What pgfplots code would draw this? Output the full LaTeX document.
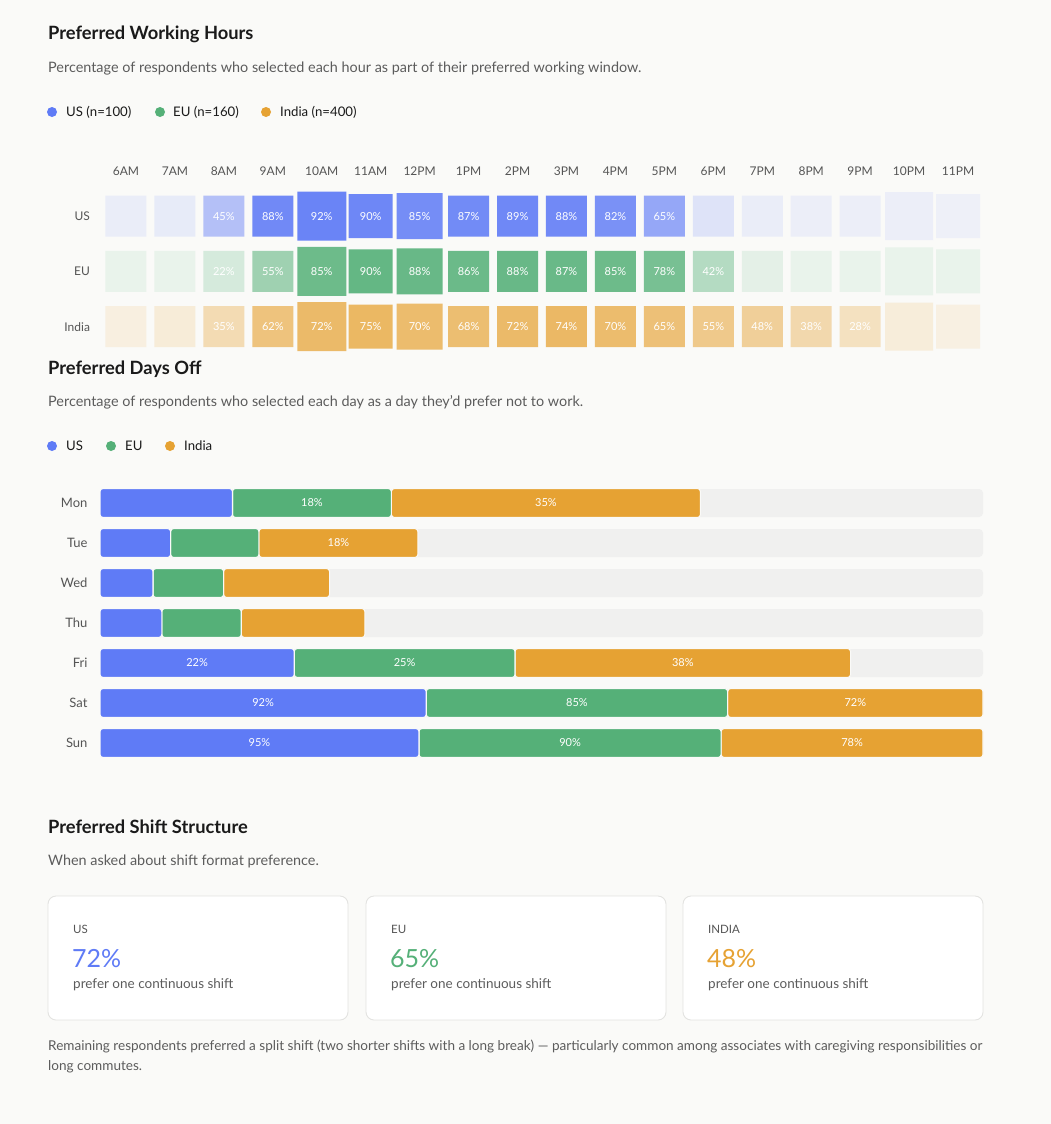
\documentclass[border=0pt]{standalone}
\usepackage{fontspec}
\setmainfont{Lato}
\usepackage{pgfplots}
\pgfplotsset{compat=1.18}
\usepackage{pgfplotstable}
\definecolor{bg}{HTML}{FAFAF8}
\definecolor{usc}{HTML}{5F7BF6}
\definecolor{euc}{HTML}{55B078}
\definecolor{inc}{HTML}{E6A233}
\definecolor{trk}{HTML}{F0F0EF}
\definecolor{ttl}{HTML}{1A1A1A}
\definecolor{sub}{HTML}{5C5C5C}
\definecolor{lab}{HTML}{555555}
\definecolor{cardline}{HTML}{E3E3E1}
\newcommand\fs[1]{\fontsize{#1}{#1}\selectfont}

\pgfdeclareplotmark{rsq}{%
  \pgfsetcornersarced{\pgfpoint{3pt}{3pt}}%
  \pgfpathmoveto{\pgfqpoint{-\pgfplotmarksize}{0pt}}%
  \pgfpathlineto{\pgfqpoint{-\pgfplotmarksize}{\pgfplotmarksize}}%
  \pgfpathlineto{\pgfqpoint{\pgfplotmarksize}{\pgfplotmarksize}}%
  \pgfpathlineto{\pgfqpoint{\pgfplotmarksize}{-\pgfplotmarksize}}%
  \pgfpathlineto{\pgfqpoint{-\pgfplotmarksize}{-\pgfplotmarksize}}%
  \pgfpathclose
  \pgfusepathqfill
}

\pgfplotsset{
  colormap={usmap}{color=(bg) color=(usc)},
  colormap={eumap}{color=(bg) color=(euc)},
  colormap={inmap}{color=(bg) color=(inc)},
}

% hour index, share of respondents (%) per region, half cell size (pt)
\pgfplotstableread{
h  US EU IN s
0  10 10 12 20.5
1  12 10 16 20.5
2  45 22 35 20.5
3  88 55 62 20.5
4  92 85 72 24.5
5  90 90 75 22
6  85 88 70 23
7  87 86 68 20.5
8  89 88 72 20.5
9  88 87 74 20.5
10 82 85 70 20.5
11 65 78 65 20.5
12 18 42 55 20.5
13 10 13 48 20.5
14 9  10 38 20.5
15 9  10 28 20.5
16 9  10 15 24
17 8  10 11 22
}\hours

% day index, share of respondents (%) preferring the day off
\pgfplotstableread{
d US EU IN
0 15 18 35
1 8  10 18
2 6  8  12
3 7  9  14
4 22 25 38
5 92 85 72
6 95 90 78
}\days

\pgfplotsset{
  heat/.style={scatter, only marks, mark=rsq,
    scatter/use mapped color={draw=none,fill=mapped color},
    visualization depends on={\thisrow{s} \as \sz},
    scatter/@pre marker code/.append style={/tikz/mark size=\sz}},
  vlab/.style={only marks, mark=none,
    /pgf/number format/assume math mode=true,
    nodes near coords={\pgfmathprintnumber{\pgfplotspointmeta}\%},
    every node near coord/.append style={anchor=center, text=white, font=\fs{11}}},
  baraxis/.style={at={(100pt,-483pt)}, anchor=north west, scale only axis,
    width=883pt, height=280pt, xmin=0, xmax=100, ymin=-0.5, ymax=6.5,
    y dir=reverse, clip=false},
}
\newcommand\tot{max(100,\thisrow{US}+\thisrow{EU}+\thisrow{IN})}

\begin{document}
\begin{tikzpicture}
\fill[bg] (0pt,0pt) rectangle (1051pt,-1124pt);

% ---------- Section 1 ----------
\node[anchor=base west, inner sep=0, font=\fs{18.3}\bfseries, text=ttl] at (48pt,-40pt) {Preferred Working Hours};
\node[anchor=base west, inner sep=0, font=\fs{14.4}, text=sub] at (48pt,-73pt) {Percentage of respondents who selected each hour as part of their preferred working window.};
\fill[usc] (52pt,-112pt) circle (5pt);
\node[anchor=base west, inner sep=0, font=\fs{13.2}, text=ttl] at (66pt,-116.5pt) {US (n=100)};
\fill[euc] (160pt,-112pt) circle (5pt);
\node[anchor=base west, inner sep=0, font=\fs{13.2}, text=ttl] at (173pt,-116.5pt) {EU (n=160)};
\fill[inc] (266pt,-112pt) circle (5pt);
\node[anchor=base west, inner sep=0, font=\fs{13.2}, text=ttl] at (280pt,-116.5pt) {India (n=400)};

\begin{axis}[at={(101.5pt,-188.4pt)}, anchor=north west, scale only axis,
  width=881pt, height=166pt, xmin=-0.5, xmax=17.5, ymin=-0.5, ymax=2.5,
  point meta min=0, point meta max=100,
  clip=false, axis line style={draw=none}, major tick length=0pt,
  xtick={0,...,17},
  xticklabels={6AM,7AM,8AM,9AM,10AM,11AM,12PM,1PM,2PM,3PM,4PM,5PM,6PM,7PM,8PM,9PM,10PM,11PM},
  xticklabel pos=upper,
  xticklabel style={anchor=base, yshift=12.5pt, font=\fs{12}, text=lab},
  ytick={0,1,2}, yticklabels={India,EU,US},
  yticklabel style={anchor=east, xshift=-8pt, font=\fs{12}, text=lab},
]
\addplot[heat, colormap name=usmap, point meta=\thisrow{US}] table[x=h, y expr=2] {\hours};
\addplot[heat, colormap name=eumap, point meta=\thisrow{EU}] table[x=h, y expr=1] {\hours};
\addplot[heat, colormap name=inmap, point meta=\thisrow{IN}] table[x=h, y expr=0] {\hours};
\addplot[vlab, point meta=\thisrow{US}, x filter/.expression={\thisrow{US}<20 ? nan : x}] table[x=h, y expr=2] {\hours};
\addplot[vlab, point meta=\thisrow{EU}, x filter/.expression={\thisrow{EU}<20 ? nan : x}] table[x=h, y expr=1] {\hours};
\addplot[vlab, point meta=\thisrow{IN}, x filter/.expression={\thisrow{IN}<20 ? nan : x}] table[x=h, y expr=0] {\hours};
\end{axis}

% ---------- Section 2 ----------
\node[anchor=base west, inner sep=0, font=\fs{18.3}\bfseries, text=ttl] at (48pt,-374pt) {Preferred Days Off};
\node[anchor=base west, inner sep=0, font=\fs{14.4}, text=sub] at (48pt,-406pt) {Percentage of respondents who selected each day as a day they’d prefer not to work.};
\fill[usc] (52pt,-446pt) circle (5pt);
\node[anchor=base west, inner sep=0, font=\fs{13.2}, text=ttl] at (66pt,-450.5pt) {US};
\fill[euc] (111pt,-446pt) circle (5pt);
\node[anchor=base west, inner sep=0, font=\fs{13.2}, text=ttl] at (125pt,-450.5pt) {EU};
\fill[inc] (170pt,-446pt) circle (5pt);
\node[anchor=base west, inner sep=0, font=\fs{13.2}, text=ttl] at (184pt,-450.5pt) {India};

\begin{axis}[baraxis, axis line style={draw=none}, major tick length=0pt,
  xtick=\empty, ytick={0,...,6}, yticklabels={Mon,Tue,Wed,Thu,Fri,Sat,Sun},
  yticklabel style={anchor=east, xshift=-9pt, font=\fs{13}, text=lab}]
\addplot[xbar, bar width=28pt, fill=trk, draw=none, rounded corners=4pt]
  coordinates {(100,0) (100,1) (100,2) (100,3) (100,4) (100,5) (100,6)};
\end{axis}

\begin{axis}[baraxis, hide axis, xbar stacked, bar width=29pt]
\addplot[fill=usc, draw=bg, line width=1.1pt, rounded corners=3pt]
  table[y=d, x expr={\thisrow{US}*100/\tot}] {\days};
\addplot[fill=euc, draw=bg, line width=1.1pt, rounded corners=3pt]
  table[y=d, x expr={\thisrow{EU}*100/\tot}] {\days};
\addplot[fill=inc, draw=bg, line width=1.1pt, rounded corners=3pt]
  table[y=d, x expr={\thisrow{IN}*100/\tot}] {\days};
\end{axis}

\begin{axis}[baraxis, hide axis]
\addplot[vlab, point meta=\thisrow{US}, x filter/.expression={\thisrow{US}<16 ? nan : x}]
  table[y=d, x expr={(\thisrow{US}/2)*100/\tot}] {\days};
\addplot[vlab, point meta=\thisrow{EU}, x filter/.expression={\thisrow{EU}<16 ? nan : x}]
  table[y=d, x expr={(\thisrow{US}+\thisrow{EU}/2)*100/\tot}] {\days};
\addplot[vlab, point meta=\thisrow{IN}, x filter/.expression={\thisrow{IN}<16 ? nan : x}]
  table[y=d, x expr={(\thisrow{US}+\thisrow{EU}+\thisrow{IN}/2)*100/\tot}] {\days};
\end{axis}

% ---------- Section 3 ----------
\node[anchor=base west, inner sep=0, font=\fs{18.3}\bfseries, text=ttl] at (48pt,-833pt) {Preferred Shift Structure};
\node[anchor=base west, inner sep=0, font=\fs{14.4}, text=sub] at (48pt,-865pt) {When asked about shift format preference.};

\foreach \x/\name/\val/\col in {48/US/72/usc, 366/EU/65/euc, 683/INDIA/48/inc}{
  \draw[cardline, fill=white, rounded corners=8pt, line width=0.9pt] (\x pt,-896pt) rectangle ++(300pt,-124pt);
  \node[anchor=base west, inner sep=0, font=\fs{11.5}, text=lab] at (\x pt+25pt,-933pt) {\name};
  \node[anchor=base west, inner sep=0, font=\fs{25}, text=\col] at (\x pt+24pt,-967pt) {\val\%};
  \node[anchor=base west, inner sep=0, font=\fs{13.5}, text=sub] at (\x pt+25pt,-988.5pt) {prefer one continuous shift};
}

\node[anchor=base west, inner sep=0, font=\fs{13.55}, text=sub] at (48pt,-1050.5pt) {Remaining respondents preferred a split shift (two shorter shifts with a long break) — particularly common among associates with caregiving responsibilities or};
\node[anchor=base west, inner sep=0, font=\fs{13.55}, text=sub] at (48pt,-1070.5pt) {long commutes.};
\end{tikzpicture}
\end{document}
